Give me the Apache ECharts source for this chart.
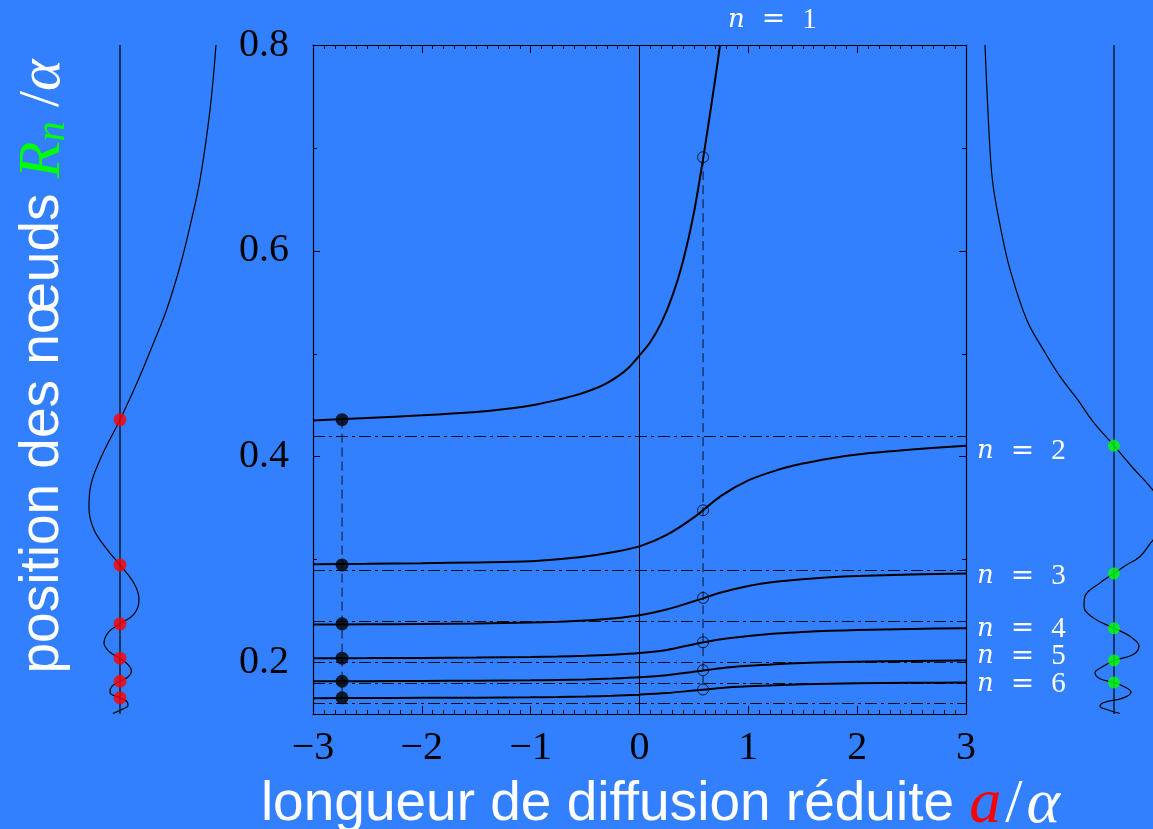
<!DOCTYPE html>
<html>
<head>
<meta charset="utf-8">
<script src="https://cdn.jsdelivr.net/npm/echarts@6.0.0/dist/echarts.min.js"></script>
<style>
  html, body { margin: 0; padding: 0; background: #3380ff; }
  #chart { width: 1153px; height: 829px; }
</style>
</head>
<body>
<div id="chart"></div>
<script>
// reduced scattering length a/alpha (x) and node positions R_n/alpha (y)
const aGrid = [-3, -2.5, -2, -1.5, -1, -0.75, -0.5, -0.25, 0, 0.25, 0.5, 0.75, 1, 1.25, 1.5, 1.75, 2, 2.5, 3];
const nodeN2 = [0.2955, 0.2959, 0.2965, 0.2973, 0.2984, 0.3003, 0.303, 0.3072, 0.3129, 0.324, 0.341, 0.362, 0.377, 0.3865, 0.3933, 0.3983, 0.4021, 0.4069, 0.4107];
const nodeN3 = [0.2369, 0.2371, 0.2374, 0.2379, 0.2388, 0.2396, 0.2408, 0.2428, 0.246, 0.2515, 0.2595, 0.268, 0.2744, 0.2785, 0.281, 0.2828, 0.284, 0.2855, 0.2865];
const nodeN4 = [0.2042, 0.2043, 0.2045, 0.2048, 0.2053, 0.2058, 0.2065, 0.2076, 0.2093, 0.2122, 0.2178, 0.2226, 0.2258, 0.2281, 0.2297, 0.2308, 0.2316, 0.2327, 0.2334];
const nodeN5 = [0.1818, 0.1819, 0.1821, 0.1823, 0.1827, 0.1831, 0.1836, 0.1844, 0.1856, 0.1876, 0.191, 0.1945, 0.1968, 0.1984, 0.1995, 0.2003, 0.2008, 0.2015, 0.2019];
const nodeN6 = [0.1654, 0.1655, 0.1657, 0.1659, 0.1662, 0.1665, 0.167, 0.1677, 0.1688, 0.1703, 0.1728, 0.1753, 0.1769, 0.178, 0.1788, 0.1794, 0.1798, 0.1803, 0.1806];
// first node leaves the frame, so it has its own abscissae
const aN1 = [-3, -2.5, -2, -1.5, -1.25, -1, -0.9, -0.8, -0.7, -0.6, -0.5, -0.4, -0.3, -0.2, -0.1, 0, 0.1, 0.2, 0.3, 0.4, 0.5, 0.6, 0.7, 0.74];
const nodeN1 = [0.4352, 0.4376, 0.4402, 0.4435, 0.446, 0.4497, 0.4518, 0.454, 0.4565, 0.4593, 0.4626, 0.4665, 0.4715, 0.478, 0.4865, 0.4985, 0.5115, 0.530, 0.5555, 0.590, 0.637, 0.70, 0.77, 0.80];

const aLeft = -2.733;   // filled dots
const aMid = 0.584;     // open circles
const filledNodes = [0.436, 0.2948, 0.2376, 0.2042, 0.1818, 0.1657];
const openNodes = [0.691, 0.3479, 0.2628, 0.2197, 0.1925, 0.1738];
const greenNodes = [0.4107, 0.2865, 0.2334, 0.2019, 0.1806];
const limits = [0.4243, 0.2913, 0.2356, 0.2029, 0.1813, 0.1648];
const yMajor = [0.2, 0.4, 0.6, 0.8];
const yMinor = [0.3, 0.5, 0.7];

// wave functions [psi, r] for the two side panels
const waveLeft = [[0.96, 0.8], [0.9, 0.737], [0.8, 0.669], [0.7, 0.624], [0.6, 0.585], [0.467, 0.543], [0.333, 0.51], [0.18, 0.474], [0, 0.436],
  [-0.2, 0.397], [-0.3, 0.368], [-0.31, 0.35], [-0.26, 0.329], [-0.13, 0.31], [0, 0.2948],
  [0.14, 0.277], [0.19, 0.261], [0.14, 0.247], [0, 0.2376],
  [-0.11, 0.23], [-0.16, 0.219], [-0.1, 0.21], [0, 0.2042],
  [0.08, 0.198], [0.115, 0.192], [0.08, 0.186], [0, 0.1818],
  [-0.08, 0.177], [-0.1, 0.171], [0, 0.1657],
  [0.07, 0.162], [0.08, 0.158], [0.03, 0.155], [-0.07, 0.1505]];
const waveRight = [[-1.29, 0.8], [-1.24, 0.698], [-1.207, 0.662], [-1.123, 0.617], [-1.04, 0.582], [-0.873, 0.533], [-0.707, 0.504], [-0.54, 0.478], [-0.36, 0.455], [-0.21, 0.434], [0, 0.4107],
  [0.19, 0.389], [0.36, 0.371], [0.52, 0.35], [0.55, 0.34], [0.5, 0.328], [0.39, 0.319], [0.26, 0.303], [0.127, 0.295], [0, 0.2865],
  [-0.14, 0.2774], [-0.29, 0.2644], [-0.3, 0.2547], [-0.207, 0.2434], [0, 0.2334],
  [0.16, 0.2255], [0.25, 0.2158], [0.193, 0.2078], [0, 0.2019],
  [-0.107, 0.1964], [-0.19, 0.19], [-0.14, 0.1842], [0, 0.1806],
  [0.093, 0.177], [0.17, 0.1712], [0.093, 0.1657], [-0.107, 0.1609], [-0.14, 0.1576], [-0.073, 0.1544], [0.06, 0.1505]];

const serif = 'Liberation Serif';
const sans = 'Liberation Sans';
const nRich = {
  i: { fontFamily: 'DejaVu Serif', fontStyle: 'italic', fontSize: 26, color: '#fff' },
  e: { fontFamily: 'DejaVu Serif', fontSize: 28, color: '#fff', padding: [0, 17, 0, 17] },
  d: { fontFamily: serif, fontSize: 29, color: '#fff' }
};

const zip = (xs, ys) => xs.map((x, i) => [x, ys[i]]);

function curve(n, data, off) {
  return {
    type: 'line', data: data, smooth: 0.3, symbol: 'none', z: 4,
    lineStyle: { color: '#000', width: 2 },
    endLabel: { show: true, formatter: '{i|n}{e|=}{d|' + n + '}', rich: nRich, offset: off, distance: 8 }
  };
}

function frameY(pos, ticks, len, showLine, labels) {
  return {
    gridIndex: 0, type: 'value', min: 0.15, max: 0.8, position: pos,
    axisLine: { show: showLine, onZero: false, lineStyle: { color: '#000', width: 1.2 } },
    axisTick: { show: true, inside: true, length: len, customValues: ticks, lineStyle: { color: '#000' } },
    axisLabel: labels ? {
      customValues: ticks, color: '#000', fontFamily: serif, fontSize: 40, margin: 24,
      formatter: (v) => v.toFixed(1)
    } : { show: false },
    splitLine: { show: false }
  };
}

function frameX(pos, labels) {
  return {
    gridIndex: 0, type: 'value', min: -3, max: 3, interval: 1, position: pos,
    axisLine: { show: true, onZero: false, lineStyle: { color: '#000', width: 1.2 } },
    axisTick: { show: true, inside: true, length: 8, lineStyle: { color: '#000' } },
    minorTick: { show: true, splitNumber: 10, length: 4, lineStyle: { color: '#000' } },
    axisLabel: labels ? {
      color: '#000', fontFamily: serif, fontSize: 40, margin: 14,
      formatter: (v) => (v < 0 ? '\u2212' + (-v) : String(v))
    } : { show: false },
    splitLine: { show: false }
  };
}

const chart = echarts.init(document.getElementById('chart'));

const xBottom = frameX('bottom', true);
xBottom.name = '{t|longueur de diffusion réduite }{a|a}{s|/}{m|α}';
xBottom.nameLocation = 'middle';
xBottom.nameGap = 46;
xBottom.nameTextStyle = {
  padding: [0, 0, 0, 42],
  rich: {
    t: { fontFamily: sans, fontSize: 55, color: '#fff' },
    a: { fontFamily: serif, fontStyle: 'italic', fontSize: 64, color: '#ff0000' },
    s: { fontFamily: serif, fontSize: 62, color: '#fff', padding: [0, 4, 0, 4] },
    m: { fontFamily: serif, fontStyle: 'italic', fontSize: 64, color: '#fff' }
  }
};

const yLeft = frameY('left', yMajor, 7, true, true);
yLeft.name = '{t|position des nœuds }{r|R}{s|n}{l| /}{m|α}';
yLeft.nameLocation = 'middle';
yLeft.nameRotate = 90;
yLeft.nameGap = 240;
yLeft.nameTextStyle = {
  padding: [0, 0, 0, 26],
  rich: {
    t: { fontFamily: sans, fontSize: 55, color: '#fff' },
    r: { fontFamily: serif, fontStyle: 'italic', fontSize: 60, color: '#00ff00' },
    s: { fontFamily: serif, fontStyle: 'italic', fontSize: 40, color: '#00ff00', lineHeight: 24, verticalAlign: 'bottom' },
    l: { fontFamily: serif, fontSize: 58, color: '#fff' },
    m: { fontFamily: serif, fontStyle: 'italic', fontSize: 60, color: '#fff' }
  }
};

const option = {
  animation: false,
  backgroundColor: '#3380ff',
  grid: [
    { left: 313, top: 45, width: 653, height: 669, outerBoundsMode: 'none' },
    { left: 0, top: 45, width: 240, height: 669, outerBoundsMode: 'none' },
    { left: 964, top: 45, width: 300, height: 669, outerBoundsMode: 'none' }
  ],
  xAxis: [
    xBottom,
    frameX('top', false),
    { gridIndex: 1, type: 'value', min: -1.2, max: 1.2, show: false },
    { gridIndex: 2, type: 'value', min: -1.5, max: 1.5, show: false }
  ],
  yAxis: [
    yLeft,
    frameY('right', yMajor, 7, true, false),
    frameY('left', yMinor, 4, false, false),
    frameY('right', yMinor, 4, false, false),
    { gridIndex: 1, type: 'value', min: 0.15, max: 0.8, show: false },
    { gridIndex: 2, type: 'value', min: 0.15, max: 0.8, show: false }
  ],
  series: [
    {
      // a = 0 line, with the limiting node positions as dash-dot lines
      type: 'line', data: [[0, 0.15], [0, 0.8]], symbol: 'none', z: 2,
      lineStyle: { color: '#000', width: 1 },
      markLine: {
        silent: true, symbol: 'none', label: { show: false },
        lineStyle: { color: 'rgba(0,0,0,0.9)', width: 1, type: [12, 4, 3, 4] },
        data: limits.map((v) => ({ yAxis: v }))
      }
    },
    {
      type: 'line', data: [[aLeft, filledNodes[0]], [aLeft, filledNodes[filledNodes.length - 1]]],
      symbol: 'none', z: 2, lineStyle: { color: 'rgba(0,0,0,0.85)', width: 1, type: [9, 5] }
    },
    {
      type: 'line', data: [[aMid, openNodes[0]], [aMid, openNodes[openNodes.length - 1]]],
      symbol: 'none', z: 2, lineStyle: { color: 'rgba(0,0,0,0.85)', width: 1, type: [9, 5] }
    },
    curve(1, zip(aN1, nodeN1), [0, -25]),
    curve(2, zip(aGrid, nodeN2), [3, 6]),
    curve(3, zip(aGrid, nodeN3), [3, 3]),
    curve(4, zip(aGrid, nodeN4), [3, 1]),
    curve(5, zip(aGrid, nodeN5), [3, -4]),
    curve(6, zip(aGrid, nodeN6), [3, 2]),
    {
      type: 'scatter', data: filledNodes.map((y) => [aLeft, y]), symbolSize: 13, z: 5,
      itemStyle: { color: '#000' }
    },
    {
      type: 'scatter', data: openNodes.map((y) => [aMid, y]), symbolSize: 11, z: 5,
      itemStyle: { color: 'rgba(0,0,0,0)', borderColor: '#000', borderWidth: 1 }
    },
    // left panel: wave function at a = aLeft
    {
      type: 'line', xAxisIndex: 2, yAxisIndex: 4, data: [[0, 0.15], [0, 0.8]], symbol: 'none',
      lineStyle: { color: '#000', width: 1.2 }
    },
    {
      type: 'line', xAxisIndex: 2, yAxisIndex: 4, data: waveLeft, smooth: 0.4, symbol: 'none',
      lineStyle: { color: '#000', width: 1.2 }
    },
    {
      type: 'scatter', xAxisIndex: 2, yAxisIndex: 4, data: filledNodes.map((y) => [0, y]), symbolSize: 13, z: 5,
      itemStyle: { color: '#ff0000' }
    },
    // right panel: wave function at a = 3
    {
      type: 'line', xAxisIndex: 3, yAxisIndex: 5, data: [[0, 0.15], [0, 0.8]], symbol: 'none',
      lineStyle: { color: '#000', width: 1.2 }
    },
    {
      type: 'line', xAxisIndex: 3, yAxisIndex: 5, data: waveRight, smooth: 0.4, symbol: 'none',
      lineStyle: { color: '#000', width: 1.2 }
    },
    {
      type: 'scatter', xAxisIndex: 3, yAxisIndex: 5, data: greenNodes.map((y) => [0, y]), symbolSize: 12, z: 5,
      itemStyle: { color: '#00ff00' }
    }
  ]
};

chart.setOption(option);
</script>
</body>
</html>
